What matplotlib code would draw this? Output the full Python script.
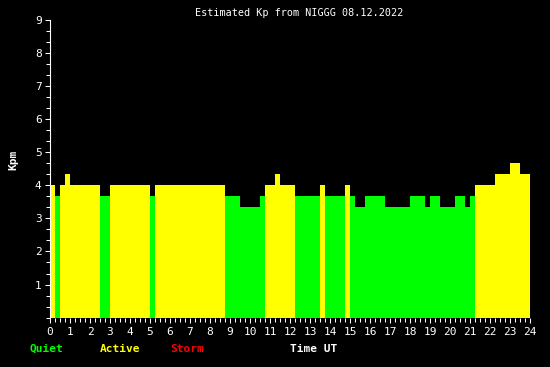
import numpy as np
import matplotlib
matplotlib.use("Agg")
import matplotlib.pyplot as plt

# Kp estimado cada 15 minutos (96 valores), 08.12.2022
kp = [4, 3.67, 4, 4.33, 4, 4, 4, 4, 4, 4,
      3.67, 3.67, 4, 4, 4, 4, 4, 4, 4, 4,
      3.67, 4, 4, 4, 4, 4, 4, 4, 4, 4,
      4, 4, 4, 4, 4, 3.67, 3.67, 3.67, 3.33, 3.33,
      3.33, 3.33, 3.67, 4, 4, 4.33, 4, 4, 4, 3.67,
      3.67, 3.67, 3.67, 3.67, 4, 3.67, 3.67, 3.67, 3.67, 4,
      3.67, 3.33, 3.33, 3.67, 3.67, 3.67, 3.67, 3.33, 3.33, 3.33,
      3.33, 3.33, 3.67, 3.67, 3.67, 3.33, 3.67, 3.67, 3.33, 3.33,
      3.33, 3.67, 3.67, 3.33, 3.67, 4, 4, 4, 4, 4.33,
      4.33, 4.33, 4.67, 4.67, 4.33, 4.33]
hour_ticks = list(range(25))
kp_ticks = list(range(1, 10))
legend_names = ["Quiet", "Active", "Storm"]
legend_colors = ["#00ff00", "#ffff00", "#ff0000"]

mono = "DejaVu Sans Mono"

def color_de(v):
    if v >= 5:
        return "#ff0000"
    if v >= 4:
        return "#ffff00"
    return "#00ff00"

t = np.arange(len(kp)) * 0.25
colores = [color_de(v) for v in kp]

fig = plt.figure(figsize=(5.5, 3.67), dpi=100, facecolor="black")
ax = fig.add_axes([50 / 550, 49.3 / 367, 480 / 550, 298.2 / 367])
ax.set_facecolor("black")

ax.bar(t, kp, width=0.25, align="edge", color=colores, linewidth=0)

ax.set_xlim(0, 24)
ax.set_ylim(0, 9)
ax.set_xticks(hour_ticks)
ax.set_xticks(np.arange(0, 24.01, 0.25), minor=True)
ax.set_yticks(kp_ticks)
ax.set_yticks(np.arange(0, 9.01, 1 / 3), minor=True)

for s in ["top", "right", "bottom"]:
    ax.spines[s].set_visible(False)
ax.spines["left"].set_color("white")
ax.spines["left"].set_linewidth(0.8)

ax.tick_params(axis="both", which="major", colors="white", length=3.6, width=0.75)
ax.tick_params(axis="both", which="minor", colors="white", length=2.6, width=0.75)
ax.tick_params(axis="x", pad=3)
ax.tick_params(axis="y", pad=2.5)
for lbl in ax.get_xticklabels() + ax.get_yticklabels():
    lbl.set_family(mono)
    lbl.set_fontsize(8)

fig.text(299 / 550, 1 - 12.5 / 367, "Estimated Kp from NIGGG 08.12.2022",
         color="white", family=mono, fontsize=7.3, ha="center", va="center")
fig.text(13 / 550, 1 - 160 / 367, "Kpm", color="white", family=mono,
         fontsize=8, fontweight="bold", rotation=90, ha="center", va="center")

xs = [30, 100, 170]
for x, nombre, c in zip(xs, legend_names, legend_colors):
    fig.text(x / 550, 1 - 349 / 367, nombre, color=c, family=mono,
             fontsize=8, fontweight="bold", ha="left", va="center")
fig.text(290 / 550, 1 - 349 / 367, "Time UT", color="white", family=mono,
         fontsize=8, fontweight="bold", ha="left", va="center")

fig.savefig("out.png", dpi=100, facecolor="black")
